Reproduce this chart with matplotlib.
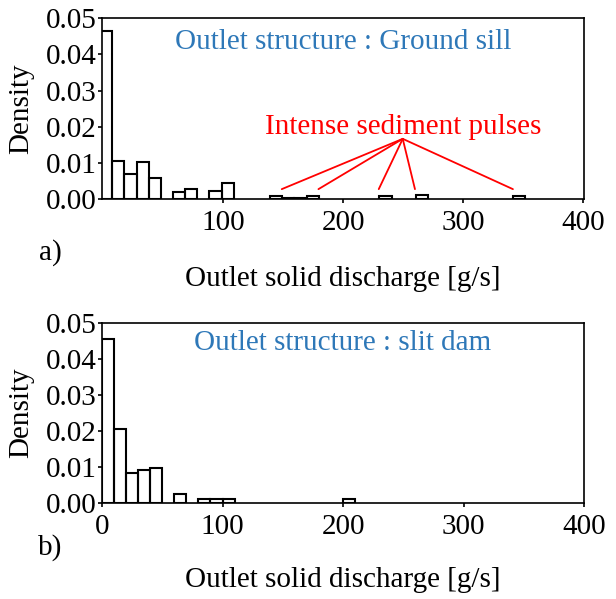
import numpy as np
import matplotlib.pyplot as plt

plt.rcParams['font.family'] = ['Liberation Serif', 'DejaVu Serif']

# a) Ground sill: histogram densities (bins of ~10.13 g/s starting at -2.6)
top_bin_start = -2.6
top_bin_width = 10.13
top_density = [0.0466, 0.0105, 0.0071, 0.0102, 0.0058, 0.0, 0.0020, 0.0028,
               0.0, 0.0023, 0.0046, 0.0, 0.0, 0.0, 0.0009, 0.0003, 0.0003,
               0.0009, 0.0, 0.0, 0.0, 0.0, 0.0, 0.0009, 0.0, 0.0, 0.0013,
               0.0, 0.0, 0.0, 0.0, 0.0, 0.0, 0.0, 0.0009]

# b) slit dam: histogram densities (bins of 10 g/s starting at 0)
bot_bin_start = 0.0
bot_bin_width = 10.0
bot_density = [0.0455, 0.0206, 0.0083, 0.0092, 0.0096, 0.0, 0.0025, 0.0,
               0.0010, 0.0010, 0.0010, 0.0, 0.0, 0.0, 0.0, 0.0, 0.0, 0.0,
               0.0, 0.0, 0.0011]

# pulses pointed at in panel a)
pulse_x = [148.9, 179.5, 229.8, 260.0, 341.7]
pulse_y = 0.0028
label_xy = (249.8, 0.0167)

yticks = [0.00, 0.01, 0.02, 0.03, 0.04, 0.05]

fig = plt.figure(figsize=(6.16, 5.99), dpi=100)
ax1 = fig.add_axes([0.1656, 0.6673, 0.7825, 0.3022])
ax2 = fig.add_axes([0.1656, 0.1608, 0.7825, 0.3005])

blue = '#2e78b8'
fs = 21


def draw_hist(ax, start, width, dens):
    edges = start + width * np.arange(len(dens))
    dens = np.array(dens)
    keep = dens > 0
    ax.bar(edges[keep], dens[keep], width=width, align='edge',
           fill=False, edgecolor='black', linewidth=1.5)
    ax.set_ylim(0, 0.05)
    ax.set_yticks(yticks)
    ax.set_yticklabels(['%.2f' % v for v in yticks])
    ax.tick_params(labelsize=fs, length=3, width=1.2, pad=1)
    ax.tick_params(axis='x', pad=5)
    for s in ax.spines.values():
        s.set_linewidth(1.2)
    ax.set_ylabel('Density', fontsize=fs)
    ax.set_xlabel('Outlet solid discharge [g/s]', fontsize=fs)


draw_hist(ax1, top_bin_start, top_bin_width, top_density)
ax1.set_xlim(-1, 401)
ax1.set_xticks([100, 200, 300, 400])
ax1.yaxis.set_label_coords(-0.14, 0.5)
ax1.xaxis.set_label_coords(0.5, -0.37)
ax1.text(199.8, 0.0434, 'Outlet structure : Ground sill', color=blue,
         fontsize=fs, ha='center', va='center')
ax1.text(label_xy[0], 0.0199, 'Intense sediment pulses', color='red',
         fontsize=fs, ha='center', va='center')
for px in pulse_x:
    ax1.annotate('', xy=(px, pulse_y), xytext=label_xy,
                 arrowprops=dict(arrowstyle='-', color='red', lw=1.3,
                                 shrinkA=0, shrinkB=0))

draw_hist(ax2, bot_bin_start, bot_bin_width, bot_density)
ax2.set_xlim(0, 400)
ax2.set_xticks([0, 100, 200, 300, 400])
ax2.yaxis.set_label_coords(-0.14, 0.5)
ax2.xaxis.set_label_coords(0.5, -0.36)
ax2.text(199.8, 0.0444, 'Outlet structure : slit dam', color=blue,
         fontsize=fs, ha='center', va='center')

fig.text(50 / 616, 1 - 253 / 599, 'a)', fontsize=fs, ha='center', va='center')
fig.text(50 / 616, 1 - 548 / 599, 'b)', fontsize=fs, ha='center', va='center')

fig.savefig('out.png', dpi=100)
